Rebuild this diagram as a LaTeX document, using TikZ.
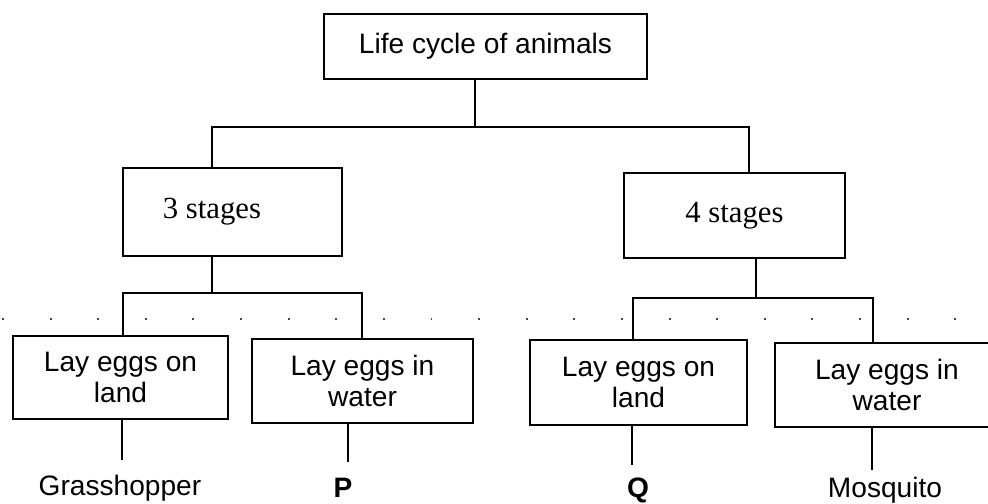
\documentclass[tikz,border=0pt]{standalone}
\usepackage{fontspec}
\newfontfamily\arialf{Liberation Sans}
\newfontfamily\timesf{Liberation Serif}
\begin{document}
\begin{tikzpicture}[x=0.02cm,y=-0.02cm,
  box/.style={draw=black,line width=1.4pt,rectangle,inner sep=0pt,align=center,
    font=\arialf\fontsize{16}{17.5}\selectfont},
  sbox/.style={box,font=\timesf\fontsize{17.5}{19}\selectfont},
  conn/.style={draw=black,line width=1.5pt},
  leaf/.style={inner sep=0pt,font=\arialf\fontsize{16}{18}\selectfont},
  specks/.style={draw=black!70,line width=1.1pt,dash pattern=on 1.1pt off 26pt}]
\useasboundingbox (0,0) rectangle (988,504);
\fill[white] (0,0) rectangle (988,504);
% faint dotted trace
\path[specks] (2,319) -- (988,319);
% nodes
\node[box,minimum width=323*0.02cm,minimum height=65*0.02cm] (top) at (485.5,46.5) {Life cycle of animals};
\node[sbox,minimum width=219*0.02cm,minimum height=88*0.02cm,
  label={[font=\timesf\fontsize{17.5}{19}\selectfont,xshift=-0.41cm]center:3 stages}] (s3) at (232.5,212) {};
\node[sbox,minimum width=221*0.02cm,minimum height=85*0.02cm] (s4) at (734.5,215.5) {4 stages};
\node[box,minimum width=215*0.02cm,minimum height=83*0.02cm] (b1) at (120.5,377.5) {Lay eggs on\\land};
\node[box,minimum width=221*0.02cm,minimum height=84*0.02cm] (b2) at (362.5,381) {Lay eggs in\\water};
\node[box,minimum width=217*0.02cm,minimum height=85*0.02cm] (b3) at (638.5,382.5) {Lay eggs on\\land};
\node[box,minimum width=224*0.02cm,minimum height=84*0.02cm] (b4) at (887,385) {Lay eggs in\\water};
\node[leaf] (l1) at (120,488) {Grasshopper};
\node[leaf] (l2) at (343,488) {\bfseries P};
\node[leaf] (l3) at (638,490) {\bfseries Q};
\node[leaf] (l4) at (885,490) {Mosquito};
% junction coordinates
\coordinate (j0) at (475,127);
\coordinate (j3) at (212,127);
\coordinate (j4) at (749,127);
\coordinate (k3) at (212,293);
\coordinate (k4) at (756,298);
\coordinate (e1) at (122,460);
\coordinate (e2) at (348,462);
\coordinate (e3) at (632,465);
\coordinate (e4) at (872,470);
% connectors
\draw[conn] (top.south -| j0) -- (j0);
\draw[conn] (s3.north -| j3) -- (j3) -- (j4) -- (s4.north -| j4);
\draw[conn] (s3.south -| k3) -- (k3);
\draw[conn] (b1.north -| 123,0) -- (123,293) -- (362,293) -- (b2.north -| 362,0);
\draw[conn] (s4.south -| k4) -- (k4);
\draw[conn] (b3.north -| 633,0) -- (633,298) -- (873,298) -- (b4.north -| 873,0);
\draw[conn] (b1.south -| e1) -- (e1);
\draw[conn] (b2.south -| e2) -- (e2);
\draw[conn] (b3.south -| e3) -- (e3);
\draw[conn] (b4.south -| e4) -- (e4);
\end{tikzpicture}
\end{document}
